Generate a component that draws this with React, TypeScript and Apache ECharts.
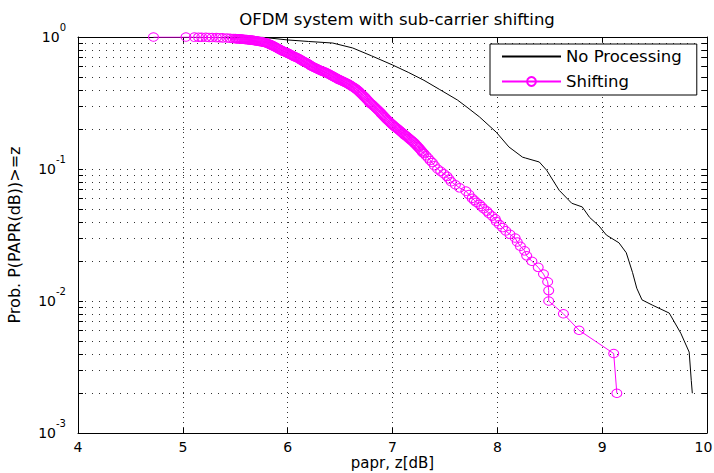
import React, { useEffect, useRef } from 'react';
import * as echarts from 'echarts';

const titleText = 'OFDM system with sub-carrier shifting';
const xName = 'papr, z[dB]';
const yName = 'Prob. P(PAPR(dB))>=z';
const seriesNames = ['No Processing', 'Shifting'];

const X_MIN = 4;
const X_MAX = 10;
const Y_MIN = 0.001;
const Y_MAX = 1;

// "No Processing" CCDF [papr dB, probability]
const noProcessing: [number, number][] = [
  [5.4, 1.0], [5.76, 0.995], [6.0, 0.95], [6.2, 0.925], [6.43, 0.9], [6.62, 0.826],
  [6.8, 0.72], [7.0, 0.614], [7.15, 0.54], [7.3, 0.47], [7.45, 0.4], [7.62, 0.333],
  [7.72, 0.29], [7.83, 0.248], [7.99, 0.19], [8.11, 0.147], [8.24, 0.123], [8.27, 0.121],
  [8.4, 0.113], [8.47, 0.098], [8.59, 0.069], [8.71, 0.055], [8.81, 0.0516], [8.88, 0.043],
  [8.97, 0.037], [9.04, 0.0316], [9.16, 0.0276], [9.23, 0.0232], [9.29, 0.0164], [9.33, 0.0125],
  [9.38, 0.0102], [9.48, 0.0093], [9.64, 0.0081], [9.75, 0.0057], [9.83, 0.0041], [9.85, 0.0025],
  [9.86, 0.002],
];

// "Shifting" CCDF [papr dB, probability] (dense band of markers)
const shifting: [number, number][] = [
  [4.72, 1.0], [5.03, 1.0], [5.11, 0.998], [5.15, 0.997], [5.18, 0.996], [5.22, 0.994],
  [5.25, 0.993], [5.28, 0.992], [5.32, 0.99], [5.35, 0.988], [5.38, 0.985], [5.42, 0.982],
  [5.45, 0.978], [5.48, 0.975],
  [5.5, 0.972], [5.51, 0.971], [5.52, 0.97], [5.53, 0.968], [5.54, 0.967], [5.55, 0.965],
  [5.56, 0.964], [5.57, 0.962], [5.58, 0.961], [5.59, 0.959], [5.6, 0.958], [5.61, 0.956],
  [5.62, 0.954], [5.63, 0.952], [5.64, 0.95], [5.65, 0.948], [5.66, 0.946], [5.67, 0.943],
  [5.68, 0.94], [5.69, 0.938], [5.7, 0.935], [5.71, 0.932], [5.72, 0.929], [5.73, 0.926],
  [5.74, 0.923], [5.75, 0.92], [5.76, 0.916], [5.77, 0.912], [5.78, 0.908], [5.79, 0.904],
  [5.8, 0.9], [5.81, 0.893], [5.82, 0.886], [5.83, 0.879], [5.84, 0.872], [5.85, 0.865],
  [5.86, 0.857], [5.87, 0.849], [5.88, 0.841], [5.89, 0.833], [5.9, 0.825], [5.91, 0.817],
  [5.92, 0.809], [5.93, 0.801], [5.94, 0.793], [5.95, 0.785], [5.96, 0.779], [5.97, 0.773],
  [5.98, 0.767], [5.99, 0.761], [6.0, 0.755], [6.01, 0.748], [6.02, 0.741], [6.03, 0.734],
  [6.04, 0.727], [6.05, 0.72], [6.06, 0.714], [6.07, 0.708], [6.08, 0.702], [6.09, 0.696],
  [6.1, 0.69], [6.11, 0.683], [6.12, 0.675], [6.13, 0.668], [6.14, 0.66], [6.15, 0.654],
  [6.16, 0.648], [6.17, 0.642], [6.18, 0.636], [6.19, 0.63], [6.2, 0.622], [6.21, 0.615],
  [6.22, 0.607], [6.23, 0.6], [6.24, 0.595], [6.25, 0.59], [6.26, 0.585], [6.27, 0.58],
  [6.28, 0.575], [6.29, 0.57], [6.3, 0.565], [6.31, 0.56], [6.32, 0.556], [6.33, 0.552],
  [6.34, 0.548], [6.35, 0.544], [6.36, 0.54], [6.37, 0.535], [6.38, 0.53], [6.39, 0.525],
  [6.4, 0.52], [6.41, 0.515], [6.42, 0.51], [6.43, 0.505], [6.44, 0.5], [6.45, 0.495],
  [6.46, 0.49], [6.47, 0.485], [6.48, 0.48], [6.49, 0.476], [6.5, 0.472], [6.51, 0.468],
  [6.52, 0.464], [6.53, 0.46], [6.54, 0.456], [6.55, 0.452], [6.56, 0.448], [6.57, 0.444],
  [6.58, 0.44], [6.59, 0.435], [6.6, 0.43], [6.61, 0.425], [6.62, 0.42], [6.63, 0.415],
  [6.64, 0.41], [6.65, 0.405], [6.66, 0.4], [6.67, 0.393], [6.68, 0.387], [6.69, 0.38],
  [6.7, 0.373], [6.71, 0.367], [6.72, 0.36], [6.73, 0.353], [6.74, 0.347], [6.75, 0.34],
  [6.76, 0.333], [6.77, 0.327], [6.78, 0.32], [6.79, 0.315], [6.8, 0.31], [6.81, 0.305],
  [6.82, 0.3], [6.83, 0.295], [6.84, 0.29], [6.85, 0.285], [6.86, 0.28], [6.87, 0.275],
  [6.88, 0.27], [6.89, 0.265], [6.9, 0.26], [6.91, 0.255], [6.92, 0.25], [6.93, 0.245],
  [6.94, 0.24], [6.95, 0.236], [6.96, 0.232], [6.97, 0.228], [6.98, 0.224], [6.99, 0.22],
  [7.0, 0.217], [7.01, 0.213], [7.02, 0.21], [7.03, 0.207], [7.04, 0.204], [7.05, 0.201],
  [7.06, 0.198], [7.07, 0.195], [7.08, 0.192], [7.09, 0.189], [7.1, 0.186], [7.11, 0.183],
  [7.12, 0.18], [7.13, 0.178], [7.14, 0.175], [7.15, 0.172], [7.16, 0.17], [7.17, 0.167],
  [7.18, 0.165], [7.19, 0.162], [7.2, 0.16], [7.21, 0.157], [7.22, 0.154], [7.23, 0.151],
  [7.24, 0.148], [7.25, 0.145], [7.26, 0.142], [7.27, 0.139], [7.28, 0.136], [7.29, 0.133],
  [7.3, 0.131], [7.32, 0.126], [7.34, 0.121], [7.36, 0.116], [7.38, 0.112], [7.4, 0.106],
  [7.43, 0.1], [7.46, 0.096], [7.49, 0.092], [7.52, 0.088], [7.54, 0.084], [7.56, 0.08],
  [7.6, 0.076], [7.64, 0.072], [7.7, 0.068], [7.73, 0.064], [7.76, 0.06], [7.78, 0.058],
  [7.8, 0.056], [7.83, 0.054], [7.85, 0.052], [7.87, 0.05], [7.9, 0.048], [7.92, 0.046],
  [7.95, 0.044], [7.98, 0.042], [7.99, 0.04], [8.02, 0.038], [8.05, 0.036], [8.08, 0.034],
  [8.12, 0.032], [8.17, 0.03], [8.19, 0.028], [8.22, 0.026], [8.26, 0.024], [8.28, 0.022],
  [8.33, 0.02], [8.39, 0.018], [8.44, 0.016], [8.48, 0.014], [8.49, 0.012], [8.49, 0.01],
  [8.63, 0.008], [8.78, 0.006], [9.11, 0.004], [9.14, 0.002],
];

// horizontal grid lines (log minor + decades)
const hGridValues = [
  0.002, 0.003, 0.004, 0.005, 0.006, 0.007, 0.008, 0.009, 0.01,
  0.02, 0.03, 0.04, 0.05, 0.06, 0.07, 0.08, 0.09, 0.1,
  0.2, 0.3, 0.4, 0.5, 0.6, 0.7, 0.8, 0.9,
];

const FONT = "'DejaVu Sans', 'Liberation Sans', sans-serif";

export default function App() {
  const ref = useRef<HTMLDivElement>(null);

  useEffect(() => {
    if (!ref.current) return;
    const chart = echarts.init(ref.current, undefined, { renderer: 'svg' });

    const axisLine = { show: true, onZero: false, lineStyle: { color: '#000', width: 1 } };
    const axisTick = { show: true, inside: true, length: 5, lineStyle: { color: '#000', width: 1 } };

    const option: any = {
      animation: false,
      backgroundColor: '#fff',
      title: {
        text: titleText,
        left: 392,
        top: 6,
        textAlign: 'center',
        textStyle: { fontFamily: FONT, fontSize: 16.5, fontWeight: 'normal', color: '#000' },
      },
      grid: {
        left: 78,
        right: 7,
        top: 37,
        bottom: 40,
        containLabel: false,
        outerBoundsMode: 'none',
      },
      legend: {
        data: [
          { name: seriesNames[0], itemStyle: { opacity: 0 } },
          { name: seriesNames[1] },
        ],
        orient: 'vertical',
        left: 490,
        top: 44,
        backgroundColor: '#fff',
        borderColor: '#000',
        borderWidth: 1,
        borderRadius: 0,
        padding: [4, 15, 5, 11],
        itemWidth: 59,
        itemHeight: 11,
        itemGap: 8,
        textStyle: { fontFamily: FONT, fontSize: 16.5, color: '#000', lineHeight: 16 },
      },
      xAxis: [
        {
          type: 'value',
          min: X_MIN,
          max: X_MAX,
          interval: 1,
          position: 'bottom',
          axisLine,
          axisTick,
          axisLabel: {
            color: '#000',
            fontFamily: FONT,
            fontSize: 14,
            margin: 7,
            formatter: (v: number) => (v === X_MAX ? `{r|${v}}` : `${v}`),
            rich: {
              r: { fontFamily: FONT, fontSize: 14, color: '#000', padding: [0, 7, 0, 0] },
            },
          },
          splitLine: { show: true, lineStyle: { color: '#333', width: 1, type: [1, 4] } },
          name: xName,
          nameLocation: 'middle',
          nameGap: 22,
          nameMoveOverlap: false,
          nameTextStyle: { fontFamily: FONT, fontSize: 15, lineHeight: 15, color: '#000' },
        },
        {
          type: 'value',
          min: X_MIN,
          max: X_MAX,
          interval: 1,
          position: 'top',
          axisLine,
          axisTick,
          axisLabel: { show: false },
          splitLine: { show: false },
        },
      ],
      yAxis: [
        {
          type: 'log',
          logBase: 10,
          min: Y_MIN,
          max: Y_MAX,
          position: 'left',
          axisLine,
          axisTick,
          splitLine: { show: false },
          axisLabel: {
            margin: 12,
            formatter: (v: number) => `{b|10}{s|${Math.round(Math.log10(v))}}`,
            rich: {
              b: { fontFamily: FONT, fontSize: 14, lineHeight: 16, color: '#000' },
              s: { fontFamily: FONT, fontSize: 10, lineHeight: 10, color: '#000', padding: [0, 0, 19, 0] },
            },
          },
          name: yName,
          nameLocation: 'middle',
          nameGap: 56,
          nameMoveOverlap: false,
          nameTextStyle: { fontFamily: FONT, fontSize: 16, color: '#000' },
        },
        {
          type: 'log',
          logBase: 10,
          min: Y_MIN,
          max: Y_MAX,
          position: 'right',
          axisLine,
          axisTick,
          axisLabel: { show: false },
          splitLine: { show: false },
        },
      ],
      series: [
        {
          type: 'custom',
          name: 'grid',
          silent: true,
          xAxisIndex: 0,
          yAxisIndex: 0,
          z: 1,
          data: hGridValues.map((v) => [X_MIN, v]),
          encode: { x: 0, y: 1 },
          renderItem: (params: any, api: any) => {
            const v = api.value(1);
            const a = api.coord([X_MIN, v]);
            const b = api.coord([X_MAX, v]);
            const y = Math.round(a[1]) + 0.5;
            return {
              type: 'group',
              children: [
                {
                  type: 'line',
                  shape: { x1: a[0], y1: y, x2: b[0], y2: y },
                  style: { stroke: '#333', lineWidth: 1, lineDash: [1, 6] },
                },
                {
                  type: 'line',
                  shape: { x1: a[0], y1: y, x2: a[0] + 5, y2: y },
                  style: { stroke: '#000', lineWidth: 1 },
                },
                {
                  type: 'line',
                  shape: { x1: b[0] - 5, y1: y, x2: b[0], y2: y },
                  style: { stroke: '#000', lineWidth: 1 },
                },
              ],
            };
          },
        },
        {
          name: seriesNames[0],
          type: 'line',
          data: noProcessing,
          symbol: 'none',
          color: '#000',
          lineStyle: { color: '#000', width: 1 },
          z: 2,
        },
        {
          name: seriesNames[1],
          type: 'line',
          data: shifting,
          symbol: 'circle',
          symbolSize: [10, 8.5],
          showAllSymbol: true,
          color: '#ff00ff',
          itemStyle: { color: 'rgba(0,0,0,0)', borderColor: '#ff00ff', borderWidth: 1 },
          lineStyle: { color: '#ff00ff', width: 1 },
          z: 3,
        },
      ],
    };

    chart.setOption(option);
    return () => chart.dispose();
  }, []);

  return (
    <div
      ref={ref}
      style={{ position: 'absolute', left: 0, top: 0, width: 714, height: 473, background: '#fff' }}
    />
  );
}
